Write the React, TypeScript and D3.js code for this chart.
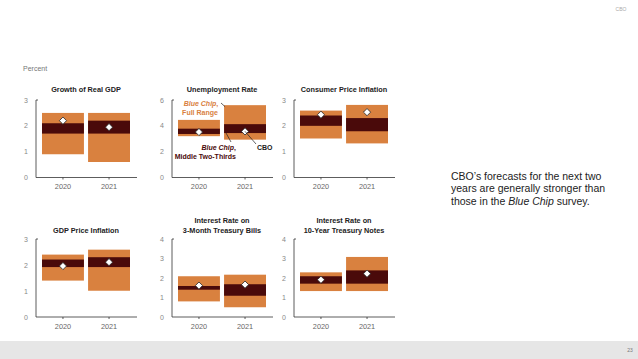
import React from 'react';
import * as d3 from 'd3';

const years = ['2020', '2021'];
const panelTitles = [
  ['Growth of Real GDP'],
  ['Unemployment Rate'],
  ['Consumer Price Inflation'],
  ['GDP Price Inflation'],
  ['Interest Rate on', '3-Month Treasury Bills'],
  ['Interest Rate on', '10-Year Treasury Notes'],
];
const yMax = [3, 6, 3, 3, 4, 4];
const yTicks = [
  [0, 1, 2, 3],
  [0, 2, 4, 6],
  [0, 1, 2, 3],
  [0, 1, 2, 3],
  [0, 1, 2, 3, 4],
  [0, 1, 2, 3, 4],
];
// Blue Chip full range (low / high), per panel [2020, 2021]
const fullLow = [[0.9, 0.6], [3.2, 2.93], [1.51, 1.32], [1.4, 1.01], [0.8, 0.5], [1.33, 1.33]];
const fullHigh = [[2.5, 2.5], [4.46, 5.6], [2.59, 2.81], [2.4, 2.59], [2.09, 2.17], [2.29, 3.08]];
// Blue Chip middle two-thirds
const midLow = [[1.7, 1.7], [3.37, 3.44], [2.0, 1.79], [1.92, 1.92], [1.4, 1.09], [1.71, 1.71]];
const midHigh = [[2.1, 2.2], [3.78, 4.13], [2.4, 2.3], [2.21, 2.3], [1.59, 1.68], [2.09, 2.39]];
// CBO forecast
const cbo = [[2.2, 1.95], [3.52, 3.57], [2.43, 2.53], [1.96, 2.11], [1.61, 1.66], [1.91, 2.22]];

const ORANGE = '#d9813f';
const DARK = '#4a0a0a';
const FONT = '"Liberation Sans Narrow", "Liberation Sans", Arial, sans-serif';
const axisX = [36, 172, 294];
const rowY0 = [177.5, 317];
const rowTop = [100, 239];

function Panel({ i }: { i: number }) {
  const ax = axisX[i % 3];
  const row = Math.floor(i / 3);
  const y = d3.scaleLinear().domain([0, yMax[i]]).range([rowY0[row], rowTop[row]]);
  const x = d3.scaleBand<string>().domain(years).range([ax + 6, ax + 94]).paddingInner(0.09);
  const bw = x.bandwidth();
  const titles = panelTitles[i];
  const titleBase = row === 0 ? 92 : 233;
  return (
    <g>
      {titles.map((t, k) => (
        <text key={t} x={ax + 50} y={titleBase - (titles.length - 1 - k) * 10.5} textAnchor="middle"
          fontFamily={FONT} fontWeight="bold" fontSize={7.3} fill="#222">{t}</text>
      ))}
      {yTicks[i].map((v) => (
        <text key={v} x={ax - 8} y={y(v) + 2.5} textAnchor="end" fontFamily={FONT} fontSize={7} fill="#888">{v}</text>
      ))}
      {years.map((yr, j) => (
        <g key={yr}>
          <rect x={x(yr)} y={y(fullHigh[i][j])} width={bw} height={y(fullLow[i][j]) - y(fullHigh[i][j])} fill={ORANGE} />
          <rect x={x(yr)} y={y(midHigh[i][j])} width={bw} height={y(midLow[i][j]) - y(midHigh[i][j])} fill={DARK} />
          <line x1={x(yr)! + bw / 2} x2={x(yr)! + bw / 2} y1={y(0)} y2={y(0) + 2} stroke="#333" strokeWidth={0.8} />
          <text x={x(yr)! + bw / 2} y={y(0) + 11.5} textAnchor="middle" fontFamily={FONT} fontSize={7.3} fill="#666">{yr}</text>
        </g>
      ))}
      <line x1={ax} x2={ax} y1={y(0)} y2={y(yMax[i])} stroke="#333" strokeWidth={0.8} />
      <line x1={ax} x2={ax + 2} y1={y(yMax[i])} y2={y(yMax[i])} stroke="#333" strokeWidth={0.8} />
      <line x1={ax} x2={ax + 101} y1={y(0)} y2={y(0)} stroke="#333" strokeWidth={0.8} />
      {years.map((yr, j) => {
        const cx = x(yr)! + bw / 2;
        const cy = y(cbo[i][j]);
        const r = 3.6;
        return (
          <path key={'d' + yr} d={`M${cx},${cy - r}L${cx + r},${cy}L${cx},${cy + r}L${cx - r},${cy}Z`}
            fill="#fff" stroke="#222" strokeWidth={0.8} />
        );
      })}
      {i === 1 && (
        <g fontFamily={FONT} fontWeight="bold" fontSize={7}>
          <text x={201} y={106} textAnchor="middle" fill={ORANGE}><tspan fontStyle="italic">Blue Chip</tspan>,</text>
          <text x={200} y={115} textAnchor="middle" fill={ORANGE}>Full Range</text>
          <line x1={221} y1={103} x2={x('2021')! + 1} y2={y(fullHigh[i][1]) + 1.5} stroke="#222" strokeWidth={0.7} />
          <text x={236} y={149.5} textAnchor="end" fill={DARK}><tspan fontStyle="italic">Blue Chip</tspan>,</text>
          <text x={236} y={159} textAnchor="end" fill={DARK}>Middle Two-Thirds</text>
          <line x1={231} y1={142} x2={x('2021')! + 2} y2={y(midLow[i][1])} stroke="#222" strokeWidth={0.7} />
          <text x={257} y={149.5} fill="#222">CBO</text>
          <line x1={x('2021')! + bw / 2} y1={y(cbo[i][1])} x2={256} y2={144} stroke="#222" strokeWidth={0.7} />
        </g>
      )}
    </g>
  );
}

export default function App() {
  return (
    <svg width={638} height={359} style={{ position: 'absolute', left: 0, top: 0, background: '#fff' }}>
      <rect x={0} y={0} width={638} height={359} fill="#fff" />
      <text x={621} y={11} textAnchor="middle" fontFamily={FONT} fontSize={5} fill="#aaa">CBO</text>
      <text x={23} y={71} fontFamily={FONT} fontSize={7} fill="#777">Percent</text>
      {panelTitles.map((_, i) => <Panel key={i} i={i} />)}
      <g fontFamily='"Liberation Sans", Arial, sans-serif' fontSize={10.5} fill="#222">
        <text x={451} y={179.5}>CBO’s forecasts for the next two</text>
        <text x={451} y={192}>years are generally stronger than</text>
        <text x={451} y={204.5}>those in the <tspan fontStyle="italic">Blue Chip</tspan> survey.</text>
      </g>
      <rect x={0} y={341} width={638} height={18} fill="#e6e6e6" />
      <text x={630} y={352} textAnchor="middle" fontFamily={FONT} fontSize={5} fill="#777">23</text>
    </svg>
  );
}
